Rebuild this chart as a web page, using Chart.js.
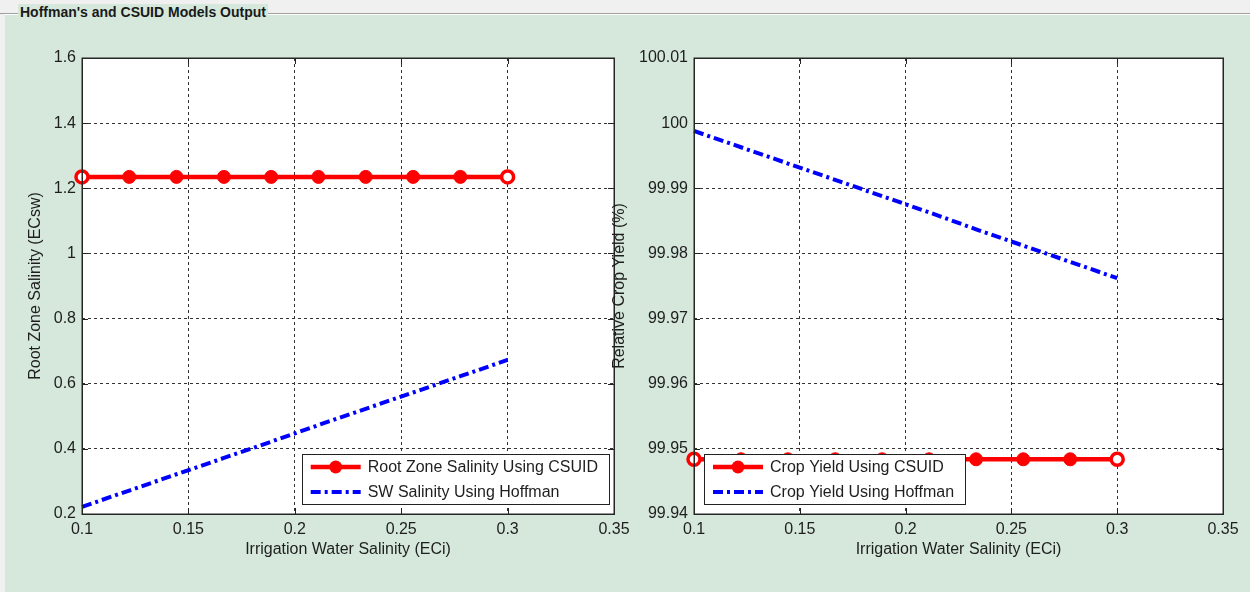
<!DOCTYPE html>
<html>
<head>
<meta charset="utf-8">
<script src="https://cdn.jsdelivr.net/npm/chart.js@4.4.1/dist/chart.umd.min.js"></script>
<style>
  html, body { margin:0; padding:0; }
  body { width:1250px; height:592px; background:#f0f0f0; position:relative; overflow:hidden; font-family:"Liberation Sans", Arial, sans-serif; }
  #line { position:absolute; left:0; top:13px; width:1250px; height:1px; background:#a0a0a0; }
  #panel { position:absolute; left:5px; top:14px; width:1245px; height:578px; background:#d5e8db; border-top:1px solid #ffffff; box-sizing:border-box; }
  #title { position:absolute; left:18px; top:4px; padding:0 2px; background:#d5e8db; font-weight:bold; font-size:14px; color:#1a1a1a; line-height:17px; }
  #c1 { position:absolute; left:0; top:0; }
  #c2 { position:absolute; left:600px; top:0; }
</style>
</head>
<body>
<div id="line"></div>
<div id="panel"></div>
<div id="title">Hoffman's and CSUID Models Output</div>
<canvas id="c1" width="640" height="592"></canvas>
<canvas id="c2" width="650" height="592"></canvas>
<script>
// ---- data ----
const xValues = [0.1, 0.1222, 0.1444, 0.1667, 0.1889, 0.2111, 0.2333, 0.2556, 0.2778, 0.3];
const rootZoneCSUID = [1.235, 1.235, 1.235, 1.235, 1.235, 1.235, 1.235, 1.235, 1.235, 1.235];
const swHoffman = [0.222, 0.272, 0.322, 0.372, 0.422, 0.473, 0.523, 0.573, 0.623, 0.673];
const yieldCSUID = [99.9484, 99.9484, 99.9484, 99.9484, 99.9484, 99.9484, 99.9484, 99.9484, 99.9484, 99.9484];
const yieldHoffman = [99.9988, 99.9963, 99.9938, 99.9913, 99.9888, 99.9863, 99.9837, 99.9812, 99.9787, 99.9762];
const xTicks = [0.1, 0.15, 0.2, 0.25, 0.3, 0.35];
const leftYTicks = [0.2, 0.4, 0.6, 0.8, 1.0, 1.2, 1.4, 1.6];
const rightYTicks = [99.94, 99.95, 99.96, 99.97, 99.98, 99.99, 100.0, 100.01];
const leftLabels = ["Root Zone Salinity Using CSUID", "SW Salinity Using Hoffman"];
const rightLabels = ["Crop Yield Using CSUID", "Crop Yield Using Hoffman"];
const xTitle = "Irrigation Water Salinity (ECi)";
const leftYTitle = "Root Zone Salinity (ECsw)";
const rightYTitle = "Relative Crop Yield (%)";

const FONT = "'Liberation Sans', Arial, sans-serif";
const FS = 16;
const TXT = '#1e1e1e';
const fmt = v => String(+Number(v).toFixed(2));
const pts = ys => xValues.map((x, i) => ({x, y: ys[i]}));

function redSet(label, ys) {
  const n = ys.length;
  const isEnd = i => i === 0 || i === n - 1;
  return {
    label, data: pts(ys), borderColor: '#ff0000', borderWidth: 4.5,
    pointRadius: ys.map((_, i) => isEnd(i) ? 6 : 6.5), pointHoverRadius: 6,
    pointBorderWidth: ys.map((_, i) => isEnd(i) ? 3.5 : 1),
    pointBorderColor: '#ff0000',
    pointBackgroundColor: ys.map((_, i) => isEnd(i) ? '#ffffff' : '#ff0000'),
    legendRadius: 6.5,
    clip: false, tension: 0, order: 2
  };
}
function blueSet(label, ys) {
  return {
    label, data: pts(ys), borderColor: '#0000ff', borderWidth: 4,
    borderDash: [10, 4, 3, 4], pointRadius: 0, clip: false, tension: 0, order: 1
  };
}

const framePlugin = {
  id: 'frame',
  beforeDraw(chart) {
    const {ctx, chartArea: a} = chart;
    ctx.save();
    ctx.fillStyle = '#ffffff';
    ctx.fillRect(a.left, a.top, a.width, a.height);
    ctx.restore();
  },
  afterDraw(chart) {
    const {ctx, chartArea: a, scales} = chart;
    ctx.save();
    // tick marks
    ctx.strokeStyle = '#222';
    ctx.lineWidth = 1;
    ctx.beginPath();
    scales.x.ticks.forEach(t => {
      const px = Math.round(scales.x.getPixelForValue(t.value)) + 0.5;
      ctx.moveTo(px, a.bottom); ctx.lineTo(px, a.bottom - 6);
      ctx.moveTo(px, a.top); ctx.lineTo(px, a.top + 6);
    });
    scales.y.ticks.forEach(t => {
      const py = Math.round(scales.y.getPixelForValue(t.value)) + 0.5;
      ctx.moveTo(a.left, py); ctx.lineTo(a.left + 6, py);
      ctx.moveTo(a.right, py); ctx.lineTo(a.right - 6, py);
    });
    ctx.stroke();
    // box
    ctx.strokeStyle = '#262626';
    ctx.lineWidth = 1.5;
    ctx.strokeRect(Math.round(a.left) + 0.25, Math.round(a.top) + 0.25, Math.round(a.width), Math.round(a.height));
    // legend
    const opt = chart.options.plugins.boxLegend;
    ctx.font = FS + 'px ' + FONT;
    const ds = chart.data.datasets;
    let tw = 0;
    ds.forEach(d => { tw = Math.max(tw, ctx.measureText(d.label).width); });
    const w = 66 + tw + 11, h = 50;
    const left = opt.side === 'right' ? a.right - 5 - w : a.left + 10;
    const top = a.bottom - 10 - h;
    ctx.fillStyle = '#ffffff';
    ctx.fillRect(left, top, w, h);
    ctx.strokeStyle = '#222';
    ctx.lineWidth = 1;
    ctx.strokeRect(Math.round(left) + 0.5, Math.round(top) + 0.5, Math.round(w), h);
    ds.forEach((d, i) => {
      const cy = top + 13 + i * 25;
      ctx.save();
      ctx.strokeStyle = d.borderColor;
      ctx.lineWidth = d.borderWidth;
      ctx.setLineDash(d.borderDash || []);
      ctx.beginPath();
      ctx.moveTo(left + 9, cy); ctx.lineTo(left + 59, cy);
      ctx.stroke();
      ctx.setLineDash([]);
      if (d.legendRadius) {
        ctx.fillStyle = d.pointBorderColor;
        ctx.beginPath(); ctx.arc(left + 34, cy, d.legendRadius, 0, Math.PI * 2); ctx.fill();
      }
      ctx.restore();
      ctx.fillStyle = TXT;
      ctx.textBaseline = 'middle';
      ctx.textAlign = 'left';
      ctx.fillText(d.label, left + 66, cy + 1);
    });
    ctx.restore();
  }
};

function makeChart(id, datasets, yMin, yMax, yTitle, yTickList, pad, yWidth, side) {
  return new Chart(document.getElementById(id), {
    type: 'line',
    data: { datasets },
    options: {
      responsive: false, animation: false, events: [],
      layout: { padding: pad },
      plugins: { legend: { display: false }, tooltip: { enabled: false }, boxLegend: { side } },
      scales: {
        x: {
          type: 'linear', min: xTicks[0], max: xTicks[xTicks.length - 1],
          afterFit: s => { s.height = 45; },
          afterBuildTicks: s => { s.ticks = xTicks.map(v => ({value: v})); },
          ticks: { padding: 6, color: TXT, font: { family: FONT, size: FS }, callback: fmt, maxRotation: 0, autoSkip: false },
          grid: { drawTicks: false, color: '#333', lineWidth: 1 },
          border: { display: false, dash: [3, 3] },
          title: { display: true, text: xTitle, color: TXT, padding: 0, font: { family: FONT, size: FS, lineHeight: 1.2 } }
        },
        y: {
          type: 'linear', min: yMin, max: yMax,
          afterFit: s => { s.width = yWidth; },
          afterBuildTicks: s => { s.ticks = yTickList.map(v => ({value: v})); },
          ticks: { padding: 6, color: TXT, font: { family: FONT, size: FS }, callback: fmt, autoSkip: false },
          grid: { drawTicks: false, color: '#333', lineWidth: 1 },
          border: { display: false, dash: [3, 3] },
          title: { display: true, text: yTitle, color: TXT, padding: 0, font: { family: FONT, size: FS, lineHeight: 1.2 } }
        }
      }
    },
    plugins: [framePlugin]
  });
}

makeChart('c1',
  [redSet(leftLabels[0], rootZoneCSUID), blueSet(leftLabels[1], swHoffman)],
  leftYTicks[0], leftYTicks[leftYTicks.length - 1], leftYTitle, leftYTicks,
  { left: 26, right: 26, top: 58, bottom: 33 }, 56, 'right');

makeChart('c2',
  [redSet(rightLabels[0], yieldCSUID), blueSet(rightLabels[1], yieldHoffman)],
  rightYTicks[0], rightYTicks[rightYTicks.length - 1], rightYTitle, rightYTicks,
  { left: 10, right: 27, top: 58, bottom: 33 }, 84, 'left');
</script>
</body>
</html>
